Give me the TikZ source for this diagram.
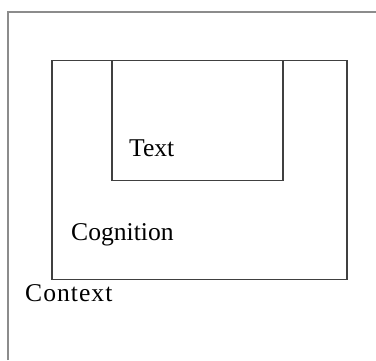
\documentclass[tikz,border=0pt]{standalone}
\usepackage{fontspec}
\setmainfont{Liberation Serif}
\begin{document}
\begin{tikzpicture}[x=1pt,y=-1pt,
  frameline/.style={draw=black!45,line width=1.2pt},
  boxline/.style={draw=black!75,line width=1.6pt},
  label/.style={anchor=base west,inner sep=0pt,font=\fontsize{25.6}{30}\selectfont}]
\useasboundingbox[fill=white] (0,0) rectangle (376,360);
% page frame, open to the right and below
\draw[frameline] (8,360) -- (8,12) -- (376,12);
% cognition and text boxes
\node[boxline,minimum width=295pt,minimum height=219pt,inner sep=0pt,anchor=north west] (cognition) at (51,59.5) {};
\node[boxline,minimum width=171pt,minimum height=120pt,inner sep=0pt,anchor=north west] (text) at (111,59.5) {};
% labels
\node[label] (textlabel) at (129,156) {Text};
\node[label] (coglabel) at (71,240) {Cognition};
\node[label] (ctxlabel) at (25,301) {\addfontfeature{LetterSpace=4}Context};
\end{tikzpicture}
\end{document}
